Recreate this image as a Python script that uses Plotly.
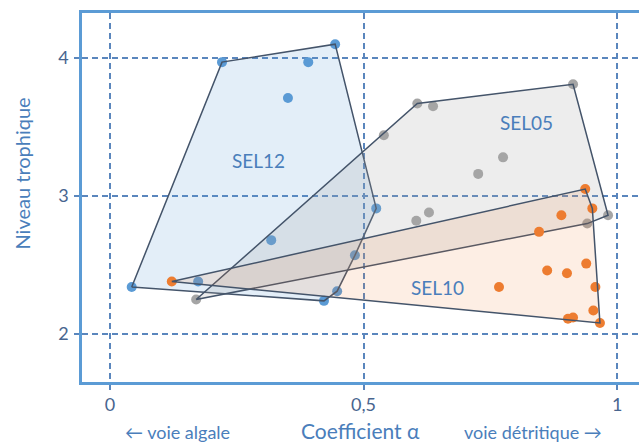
import plotly.graph_objects as go

# Values (alpha coefficient, trophic level)
sel12_alpha = [0.043, 0.221, 0.391, 0.444, 0.351, 0.525, 0.318, 0.174, 0.483, 0.448, 0.422]
sel12_level = [2.34, 3.97, 3.97, 4.10, 3.71, 2.91, 2.68, 2.38, 2.57, 2.31, 2.24]

sel05_alpha = [0.170, 0.606, 0.637, 0.540, 0.913, 0.775, 0.726, 0.629, 0.604, 0.941, 0.982]
sel05_level = [2.25, 3.67, 3.65, 3.44, 3.81, 3.28, 3.16, 2.88, 2.82, 2.80, 2.86]

sel10_alpha = [0.122, 0.937, 0.951, 0.890, 0.846, 0.939, 0.862, 0.901, 0.957, 0.767,
               0.953, 0.903, 0.913, 0.966]
sel10_level = [2.38, 3.05, 2.91, 2.86, 2.74, 2.51, 2.46, 2.44, 2.34, 2.34,
               2.17, 2.11, 2.12, 2.08]

x_ticks = [0, 0.5, 1]
x_labels = ["0", "0,5", "1"]
y_ticks = [2, 3, 4]

FONT = "Lato, 'Open Sans', sans-serif"
label_color = "#4a7ebb"
tick_color = "#48658f"
grid_color = "#5a86bd"
outline_color = "#44546a"


def convex_hull(xs, ys):
    pts = sorted(zip(xs, ys))

    def cross(o, a, b):
        return (a[0] - o[0]) * (b[1] - o[1]) - (a[1] - o[1]) * (b[0] - o[0])

    lower, upper = [], []
    for p in pts:
        while len(lower) >= 2 and cross(lower[-2], lower[-1], p) <= 0:
            lower.pop()
        lower.append(p)
    for p in reversed(pts):
        while len(upper) >= 2 and cross(upper[-2], upper[-1], p) <= 0:
            upper.pop()
        upper.append(p)
    hull = lower[:-1] + upper[:-1]
    hull.append(hull[0])
    return [p[0] for p in hull], [p[1] for p in hull]


groups = [
    ("SEL12", sel12_alpha, sel12_level, "#5b9bd5", "rgba(91,155,213,0.17)"),
    ("SEL05", sel05_alpha, sel05_level, "#a5a5a5", "rgba(165,165,165,0.20)"),
    ("SEL10", sel10_alpha, sel10_level, "#ed7d31", "rgba(237,125,49,0.13)"),
]

fig = go.Figure()
for name, xs, ys, col, fill in groups:
    hx, hy = convex_hull(xs, ys)
    fig.add_trace(go.Scatter(
        x=xs, y=ys, mode="markers",
        marker=dict(size=10, color=col),
        name=name, hoverinfo="x+y",
    ))
    fig.add_trace(go.Scatter(
        x=hx, y=hy, mode="lines", fill="toself", fillcolor=fill,
        line=dict(color=outline_color, width=1.5),
        name=name + " enveloppe", hoverinfo="skip",
    ))

# group labels
for text, x, y in [("SEL12", 0.292, 3.26), ("SEL05", 0.822, 3.53), ("SEL10", 0.645, 2.34)]:
    fig.add_annotation(x=x, y=y, text=text, showarrow=False,
                       font=dict(family=FONT, size=19, color=label_color))

# axis captions (pixel offsets from the plot area)
fig.add_annotation(xref="paper", yref="paper", x=0, xshift=-60, y=0.565,
                   xanchor="center", yanchor="middle", text="Niveau trophique",
                   textangle=-90, showarrow=False,
                   font=dict(family=FONT, size=20, color=label_color))
fig.add_annotation(xref="paper", yref="paper", x=0.5, y=0, yshift=-48,
                   xanchor="center", yanchor="middle", text="Coefficient α",
                   showarrow=False, font=dict(family=FONT, size=21, color=label_color))
fig.add_annotation(xref="paper", yref="paper", x=0.172, y=0, yshift=-50,
                   xanchor="center", yanchor="middle", text="← voie algale",
                   showarrow=False, font=dict(family=FONT, size=18, color=label_color))
fig.add_annotation(xref="paper", yref="paper", x=0.81, y=0, yshift=-50,
                   xanchor="center", yanchor="middle", text="voie détritique →",
                   showarrow=False, font=dict(family=FONT, size=18, color=label_color))

axis_common = dict(
    showgrid=True, gridcolor=grid_color, gridwidth=1.5, griddash="6px,4px",
    zeroline=False, showline=True, linecolor="#5b9bd5", linewidth=2.5, mirror=True,
    ticks="outside", ticklen=5, tickcolor=grid_color, tickwidth=1.5,
    tickfont=dict(family=FONT, size=18, color=tick_color), automargin=False,
)

fig.update_xaxes(range=[-0.055, 1.043], tickvals=x_ticks, ticktext=x_labels,
                 ticklabelstandoff=0, **axis_common)
fig.update_yaxes(range=[1.652, 4.326], tickvals=y_ticks, ticklabelstandoff=2, **axis_common)

fig.update_layout(
    width=639, height=442,
    margin=dict(l=82, r=0, t=13, b=60),
    paper_bgcolor="white", plot_bgcolor="white",
    showlegend=False,
    font=dict(family=FONT),
)

# page body has a default 8px margin; drop it so the chart sits at the window corner
fig.write_html("out.html", config={"displayModeBar": False},
               post_script="document.body.style.margin='0';")
